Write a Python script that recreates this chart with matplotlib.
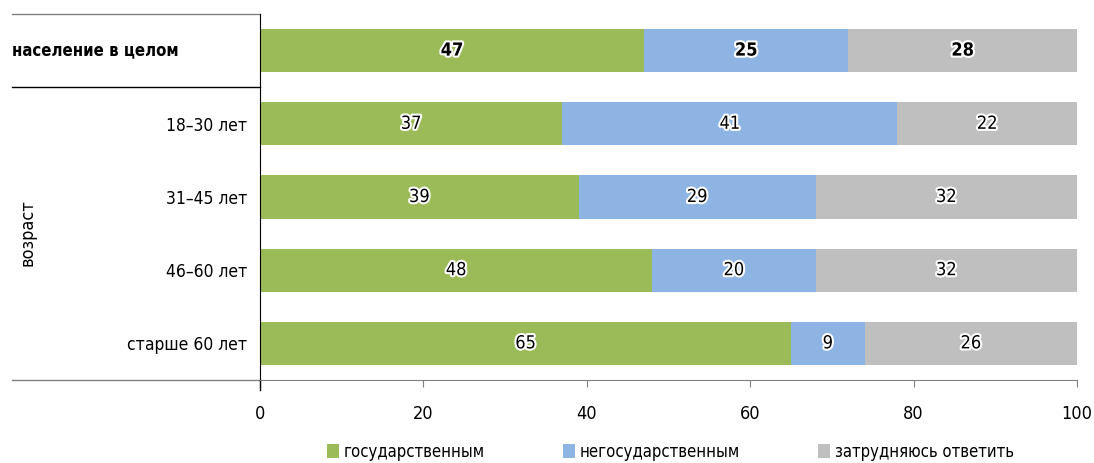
import matplotlib.pyplot as plt
import matplotlib.patheffects as pe
import numpy as np

# data
categories = ["население в целом", "18–30 лет", "31–45 лет", "46–60 лет", "старше 60 лет"]
state     = [47, 37, 39, 48, 65]
nonstate  = [25, 41, 29, 20, 9]
undecided = [28, 22, 32, 32, 26]
series_labels = ["государственным", "негосударственным", "затрудняюсь ответить"]
colors = ["#9BBB59", "#8EB4E3", "#BFBFBF"]
group_label = "возраст"

plt.rcParams['font.family'] = ['DejaVu Sans']
plt.rcParams['font.stretch'] = 'condensed'

fig = plt.figure(figsize=(10.94, 4.63), dpi=100)
ax = fig.add_axes([260/1094, 1 - 380/463, 817/1094, 366/463])

y = np.arange(len(categories))
height = 0.59
left = np.zeros(len(categories))
for vals, c, lab in zip([state, nonstate, undecided], colors, series_labels):
    vals = np.array(vals, dtype=float)
    ax.barh(y, vals, height, left=left, color=c, label=lab)
    for i, v in enumerate(vals):
        t = ax.text(left[i] + v / 2, y[i], f"{int(v)}", ha='center', va='center',
                    fontsize=13, fontweight='bold' if i == 0 else 'normal')
        t.set_path_effects([pe.withStroke(linewidth=3, foreground='white')])
    left += vals

ax.set_xlim(0, 100)
ax.set_ylim(len(categories) - 0.5, -0.5)
ax.set_xticks(np.arange(0, 101, 20))
ax.tick_params(axis='x', labelsize=13, length=5, color='#808080', pad=13)
ax.set_yticks(y[1:])
ax.set_yticklabels(categories[1:], fontsize=12.5)
ax.tick_params(axis='y', length=0, pad=9)

ax.spines[['top', 'right']].set_visible(False)
ax.spines['bottom'].set_color('#808080')
ax.spines['left'].set_color('black')

# separator lines on the left side
xl = -248 / 817
ax.plot([xl, 0], [1, 1], transform=ax.transAxes, clip_on=False, color='#808080', lw=1)
ax.plot([xl, 0], [1 - 73 / 366, 1 - 73 / 366], transform=ax.transAxes, clip_on=False, color='black', lw=1)
ax.plot([xl, 0], [0, 0], transform=ax.transAxes, clip_on=False, color='#808080', lw=1)
ax.plot([0, 0], [0, -10 / 366], transform=ax.transAxes, clip_on=False, color='black', lw=1)

ax.text(xl, 0, categories[0], transform=ax.get_yaxis_transform(), ha='left', va='center',
        fontsize=12, fontweight='bold')
ax.text(27 / 1094, 1 - 233 / 463, group_label, transform=fig.transFigure, rotation=90,
        ha='center', va='center', fontsize=13)

fig.legend(loc='center', bbox_to_anchor=(0.613, 1 - 452 / 463), ncol=3, frameon=False,
           fontsize=12, handlelength=0.7, handleheight=0.9, handletextpad=0.3,
           columnspacing=4.7)

fig.savefig("out.png", dpi=100)
